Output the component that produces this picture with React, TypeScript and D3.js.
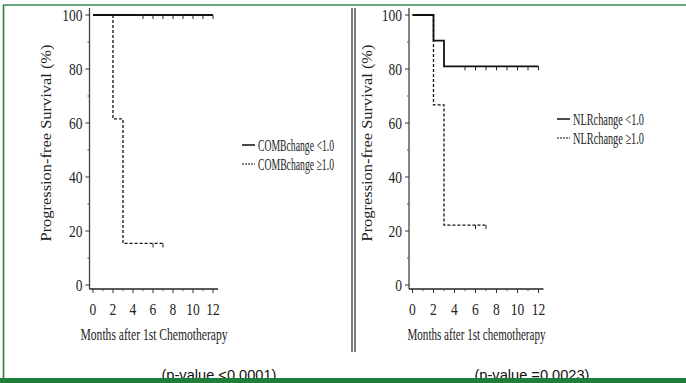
import React from "react";
import * as d3 from "d3";

const xTicks = [0, 2, 4, 6, 8, 10, 12];
const yTicks = [0, 20, 40, 60, 80, 100];

const combLowTimes = [0, 12];
const combLowSurv = [100, 100];
const combLowCensor = [5, 6, 7, 8, 9, 10, 11, 12];
const combHighTimes = [0, 2, 3, 7];
const combHighSurv = [100, 61.5, 15.4, 15.4];
const combHighCensor = [6, 7];

const nlrLowTimes = [0, 2, 3, 12];
const nlrLowSurv = [100, 90.5, 81, 81];
const nlrLowCensor = [5, 6, 7, 8, 9, 10, 11, 12];
const nlrHighTimes = [0, 2, 3, 7];
const nlrHighSurv = [100, 66.7, 22.2, 22.2];
const nlrHighCensor = [6, 7];

const legendLeft = ["COMBchange <1.0", "COMBchange \u22651.0"];
const legendRight = ["NLRchange <1.0", "NLRchange \u22651.0"];
const xTitles = ["Months after 1st Chemotherapy", "Months after 1st chemotherapy"];
const yTitle = "Progression-free Survival (%)";
const pValues = ["(p-value <0.0001)", "(p-value =0.0023)"];

const serif = "'Liberation Serif', 'Times New Roman', serif";

type Series = { t: number[]; s: number[]; c: number[]; dashed: boolean };

function Panel(props: {
  x0: number; x1: number; series: Series[]; legend: string[]; legendX: number; legendY: number;
  xTitle: string; xTitleW: number; yTitleX: number; legendW: number[];
}) {
  const { x0, x1, series, legend, legendX, legendY, xTitle, xTitleW, yTitleX, legendW } = props;
  const x = d3.scaleLinear().domain([0, 12]).range([x0, x1]);
  const y = d3.scaleLinear().domain([0, 100]).range([285, 15]);
  const axisX = x0 - 3.5;
  const axisY = 289;
  const line = d3.line<[number, number]>().x((d) => x(d[0])).y((d) => y(d[1])).curve(d3.curveStepAfter);
  const minorY = d3.range(10, 100, 20);
  const minorX = d3.range(1, 12, 2);
  const survAt = (sr: Series, tt: number) => {
    let v = sr.s[0];
    sr.t.forEach((ti, i) => { if (ti <= tt) v = sr.s[i]; });
    return v;
  };
  return (
    <g>
      <line x1={axisX} x2={axisX} y1={8} y2={axisY} stroke="#444" strokeWidth={1.3} />
      <line x1={axisX} x2={x(12) + 5} y1={axisY} y2={axisY} stroke="#222" strokeWidth={1.6} />
      {yTicks.map((v) => (
        <g key={v}>
          <line x1={axisX - 4} x2={axisX} y1={y(v)} y2={y(v)} stroke="#333" strokeWidth={1} />
          <text transform={`translate(${axisX - 7},${y(v)}) scale(0.82,1)`} dy="0.35em" textAnchor="end"
            fontFamily={serif} fontSize={16.5} fill="#222">{v}</text>
        </g>
      ))}
      {minorY.map((v) => (
        <line key={v} x1={axisX - 2} x2={axisX} y1={y(v)} y2={y(v)} stroke="#555" strokeWidth={1} />
      ))}
      {xTicks.map((v) => (
        <g key={v}>
          <line x1={x(v)} x2={x(v)} y1={axisY} y2={axisY + 4} stroke="#333" strokeWidth={1} />
          <text transform={`translate(${x(v)},309) scale(0.82,1)`} dy="0.35em" textAnchor="middle"
            fontFamily={serif} fontSize={16.5} fill="#222">{v}</text>
        </g>
      ))}
      {minorX.map((v) => (
        <line key={v} x1={x(v)} x2={x(v)} y1={axisY} y2={axisY + 2} stroke="#555" strokeWidth={1} />
      ))}
      <text x={(x0 + x1) / 2 + 1} y={334} dy="0.35em" textAnchor="middle" fontFamily={serif} fontSize={17}
        textLength={xTitleW} lengthAdjust="spacingAndGlyphs" fill="#222">{xTitle}</text>
      <text transform={`translate(${yTitleX},143) rotate(-90)`} textAnchor="middle" dy="0.35em" fontFamily={serif}
        fontSize={14.5} textLength={197} lengthAdjust="spacingAndGlyphs" fill="#222">{yTitle}</text>
      {series.map((sr, i) => (
        <g key={i}>
          <path d={line(sr.t.map((t, j) => [t, sr.s[j]] as [number, number])) || ""} fill="none" stroke="#111"
            strokeWidth={sr.dashed ? 1.3 : 1.8} strokeDasharray={sr.dashed ? "3,2" : undefined} />
          {sr.c.map((ct) => (
            <line key={ct} x1={x(ct)} x2={x(ct)} y1={y(survAt(sr, ct))} y2={y(survAt(sr, ct)) + 4} stroke="#222" strokeWidth={1} />
          ))}
        </g>
      ))}
      {legend.map((l, i) => (
        <g key={i}>
          <line x1={legendX} x2={legendX + 13} y1={legendY + i * 19} y2={legendY + i * 19} stroke="#111"
            strokeWidth={series[i].dashed ? 1.1 : 1.5} strokeDasharray={series[i].dashed ? "2,1" : undefined} />
          <text x={legendX + 16} y={legendY + i * 19} dy="0.35em" fontFamily={serif} fontSize={16.5}
            textLength={legendW[i]} lengthAdjust="spacingAndGlyphs" fill="#222">{l}</text>
        </g>
      ))}
    </g>
  );
}

export default function App() {
  const left: Series[] = [
    { t: combLowTimes, s: combLowSurv, c: combLowCensor, dashed: false },
    { t: combHighTimes, s: combHighSurv, c: combHighCensor, dashed: true },
  ];
  const right: Series[] = [
    { t: nlrLowTimes, s: nlrLowSurv, c: nlrLowCensor, dashed: false },
    { t: nlrHighTimes, s: nlrHighSurv, c: nlrHighCensor, dashed: true },
  ];
  return (
    <svg width={686} height={383} style={{ position: "absolute", left: 0, top: 0, background: "#fff" }}>
      <rect x={0} y={0} width={686} height={383} fill="#fff" />
      <Panel x0={93} x1={213} series={left} legend={legendLeft} legendX={242} legendY={145}
        xTitle={xTitles[0]} xTitleW={147} yTitleX={46} legendW={[76, 76]} />
      <Panel x0={412.5} x1={538.5} series={right} legend={legendRight} legendX={557} legendY={119}
        xTitle={xTitles[1]} xTitleW={138} yTitleX={367} legendW={[71, 71]} />
      <line x1={352} x2={352} y1={8} y2={352} stroke="#222" strokeWidth={1.2} />
      <line x1={355} x2={355} y1={8} y2={352} stroke="#222" strokeWidth={1.2} />
      <text x={219} y={380} textAnchor="middle" fontFamily="'Liberation Sans', Arial, sans-serif" fontSize={14}
        textLength={115} lengthAdjust="spacingAndGlyphs" fill="#111">{pValues[0]}</text>
      <text x={532} y={380} textAnchor="middle" fontFamily="'Liberation Sans', Arial, sans-serif" fontSize={14}
        textLength={115} lengthAdjust="spacingAndGlyphs" fill="#111">{pValues[1]}</text>
      <line x1={3.5} x2={3.5} y1={5} y2={378} stroke="#2e7d4a" strokeWidth={1.6} />
      <line x1={3} x2={686} y1={5} y2={5} stroke="#3a8a55" strokeWidth={1.6} />
      <rect x={0} y={378} width={686} height={5} fill="#1e7e3a" />
    </svg>
  );
}
